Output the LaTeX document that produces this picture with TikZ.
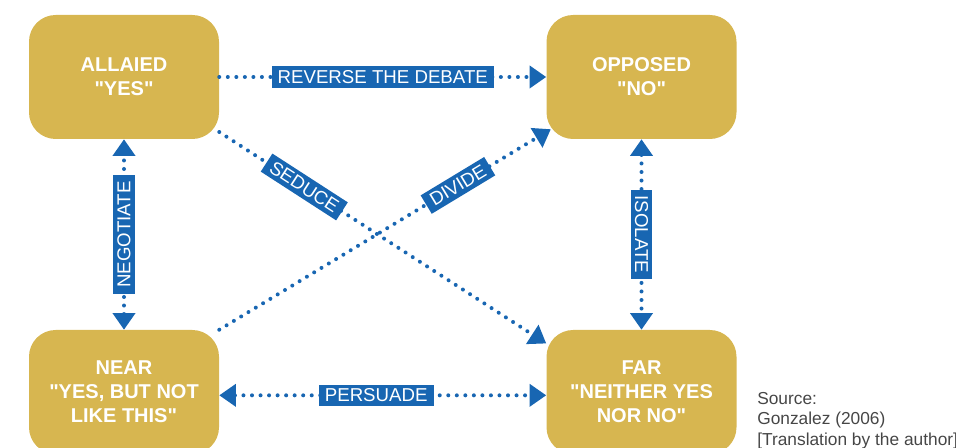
\documentclass[tikz,border=0pt]{standalone}
\usepackage{fontspec}
\setmainfont{Liberation Sans}[Ligatures = TeXOff]
\usetikzlibrary{arrows.meta}
\definecolor{boxgold}{RGB}{215,182,80}
\definecolor{linkblue}{RGB}{24,102,178}
\definecolor{srcgray}{RGB}{70,70,70}

\begin{document}
\begin{tikzpicture}[x = .75pt, y = -.75pt,
    >={Triangle[length = 12.5pt, width = 16.5pt]},
    stance/.style = {rectangle, rounded corners = 20pt, fill = boxgold, text = white,
      minimum width = 142.5pt, minimum height = 93pt, inner sep = 0pt, align = center,
      font = \bfseries\fontsize{15}{18}\selectfont},
    tactic/.style = {fill = linkblue, text = white, inner xsep = 4.5pt, inner ysep = 2.8pt,
      text height = 10pt, text depth = .5pt, font = \fontsize{14}{14}\selectfont},
    link/.style = {linkblue, line width = 3pt, line cap = round, dash pattern = on 0pt off 6.4pt}]
  \clip (0,0) rectangle (956,448);
  \node (allaied) at (124,77)    [stance] {ALLAIED\\"YES"};
  \node (opposed) at (641.5,77)  [stance] {OPPOSED\\"NO"};
  \node (near)    at (124,392)   [stance] {NEAR\\"YES, BUT NOT\\LIKE THIS"};
  \node (far)     at (641.5,392) [stance] {FAR\\"NEITHER YES\\NOR NO"};
  \node (source)  at (757,392) [anchor = north west, inner sep = 0pt, align = left, text = srcgray,
    font = \fontsize{13}{15.4}\selectfont] {Source:\\Gonzalez (2006)\\{[}Translation by the author{]}};

  \draw [link, ->] (allaied.east) -- node [tactic] {REVERSE THE DEBATE} (opposed.west);
  \draw [link, <->] (near.north) -- node [tactic, sloped] {NEGOTIATE} (allaied.south);
  \draw [link, <->] (opposed.south) -- node [tactic, sloped] {ISOLATE} (far.north);
  \draw [link, <->] (near.-2) -- node [tactic, pos = .48] {PERSUADE} (far.182);
  \draw [link, ->] (allaied.-30) -- node [tactic, sloped, pos = .26] {SEDUCE} (far.153);
  \draw [link, ->, shorten >= -4pt] (near.north east) -- node [tactic, sloped, pos = .73] {DIVIDE} (opposed.-150);
\end{tikzpicture}
\end{document}
